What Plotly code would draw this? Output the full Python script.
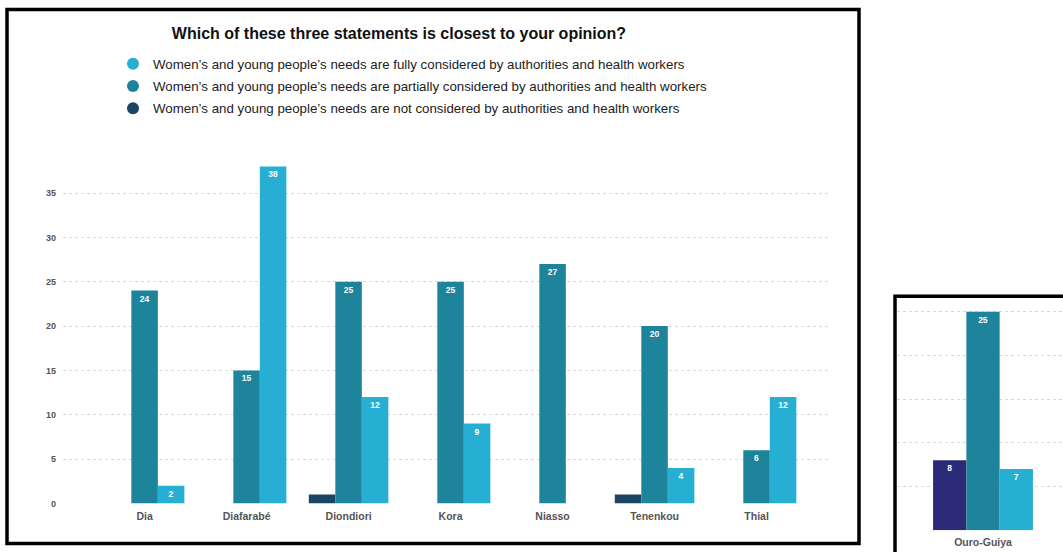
import plotly.graph_objects as go

# Survey responses per commune
communes = ["Dia", "Diafarabé", "Diondiori", "Kora", "Niasso", "Tenenkou", "Thial"]
not_considered = [0, 0, 1, 0, 0, 1, 0]
partially = [24, 15, 25, 25, 27, 20, 6]
fully = [2, 38, 12, 9, 0, 4, 12]

extra_commune = ["Ouro-Guiya"]
extra_not = [8]
extra_partially = [25]
extra_fully = [7]

y_ticks = [0, 5, 10, 15, 20, 25, 30, 35]

legend_labels = [
    "Women’s and young people’s needs are fully considered by authorities and health workers",
    "Women’s and young people’s needs are partially considered by authorities and health workers",
    "Women’s and young people’s needs are not considered by authorities and health workers",
]

C_DARK = "#1b4563"
C_DARK2 = "#2a2a78"
C_TEAL = "#1d849c"
C_LIGHT = "#27afd3"

W, H = 1063, 552


def px_x(v):
    return v / W


def px_y(v):
    return 1 - v / H


def labels(vals):
    return [str(v) if v > 1 else "" for v in vals]


fig = go.Figure()

bar_font = dict(family="Liberation Sans, Arial", size=8.5, color="white", weight="bold")


def add_bars(x, vals, color, xa, ya):
    fig.add_trace(go.Bar(
        x=x, y=vals, marker=dict(color=color, line=dict(width=0)),
        text=labels(vals), textposition="inside", insidetextanchor="end",
        textfont=bar_font, textangle=0, showlegend=False, hoverinfo="x+y",
        xaxis=xa, yaxis=ya,
    ))


add_bars(communes, not_considered, C_DARK, "x", "y")
add_bars(communes, partially, C_TEAL, "x", "y")
add_bars(communes, fully, C_LIGHT, "x", "y")

add_bars(extra_commune, extra_not, C_DARK2, "x2", "y2")
add_bars(extra_commune, extra_partially, C_TEAL, "x2", "y2")
add_bars(extra_commune, extra_fully, C_LIGHT, "x2", "y2")

# Legend entries drawn as circular markers
for i, (lab, col) in enumerate(zip(legend_labels, [C_LIGHT, C_TEAL, C_DARK])):
    fig.add_trace(go.Scatter(
        x=[None], y=[None], mode="markers", name=lab,
        marker=dict(symbol="circle", size=10, color=col),
        legendgroup=f"g{i}", showlegend=True, xaxis="x", yaxis="y",
    ))

tick_font = dict(family="Liberation Sans, Arial", size=9, color="#555555", weight="bold")
xtick_font = dict(family="Liberation Sans, Arial", size=10.5, color="#555555", weight="bold")

grid_style = dict(showgrid=True, gridcolor="#d9d9d9", griddash="dot", gridwidth=1)

fig.update_layout(
    width=W, height=H,
    margin=dict(l=0, r=0, t=0, b=0),
    paper_bgcolor="white", plot_bgcolor="white",
    barmode="group", bargap=0.22, bargroupgap=0,
    title=dict(
        text="<b>Which of these three statements is closest to your opinion?</b>",
        font=dict(family="Liberation Sans, Arial", size=16, color="#111111"),
        x=399 / W, xanchor="center", y=px_y(33), yanchor="middle",
    ),
    legend=dict(
        x=px_x(113), y=px_y(49), xanchor="left", yanchor="top",
        font=dict(family="Liberation Sans, Arial", size=13.3, color="#222222"),
        tracegroupgap=2, itemsizing="constant", bgcolor="rgba(0,0,0,0)",
    ),
    xaxis=dict(
        domain=[px_x(63), px_x(830)], range=[-0.80, 6.72],
        showgrid=False, zeroline=False, showline=False, ticks="",
        tickfont=xtick_font, ticklabelstandoff=5, anchor="y",
    ),
    yaxis=dict(
        domain=[px_y(508), px_y(159)], range=[0, 39],
        tickvals=y_ticks, tickfont=tick_font,
        zeroline=False, showline=False, ticks="", ticklabelstandoff=6,
        anchor="x", **grid_style,
    ),
    xaxis2=dict(
        domain=[px_x(897), 1.0], range=[-0.672, 0.625],
        showgrid=False, zeroline=False, showline=False, ticks="",
        tickfont=xtick_font, ticklabelstandoff=4, anchor="y2",
    ),
    yaxis2=dict(
        domain=[px_y(535), px_y(297)], range=[0, 27],
        tickvals=[0, 5, 10, 15, 20, 25], showticklabels=False,
        zeroline=False, showline=False, ticks="", anchor="x2", **grid_style,
    ),
    shapes=[
        dict(type="rect", xref="paper", yref="paper",
             x0=px_x(7), x1=px_x(859), y0=px_y(548.5), y1=px_y(9.5),
             line=dict(color="black", width=3.5), fillcolor="rgba(0,0,0,0)", layer="above"),
        dict(type="rect", xref="paper", yref="paper",
             x0=px_x(895), x1=px_x(1080), y0=px_y(570), y1=px_y(299),
             line=dict(color="black", width=3.5), fillcolor="rgba(0,0,0,0)", layer="above"),
    ],
)

fig.write_html("out.html")
